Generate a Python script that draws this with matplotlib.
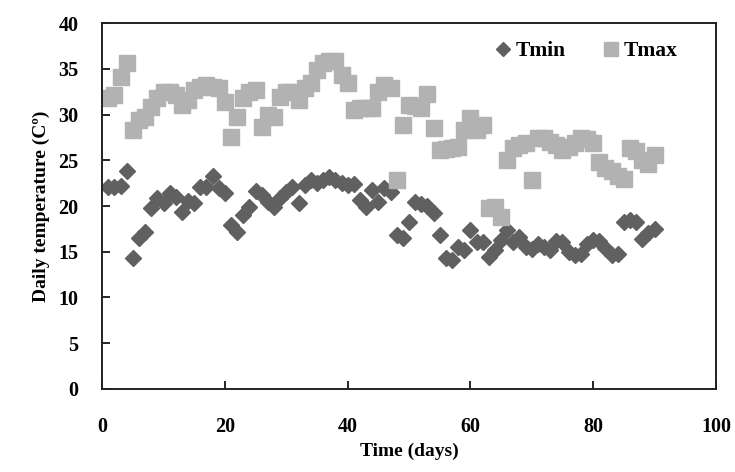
import matplotlib.pyplot as plt

# daily temperatures, days 1..90
days = list(range(1, 91))

tmin = [22.1, 22.1, 22.2, 23.8, 14.3, 16.5, 17.2, 19.8, 20.9, 20.3,
        21.4, 21.0, 19.3, 20.5, 20.3, 22.1, 22.1, 23.3, 22.0, 21.4,
        17.9, 17.2, 19.0, 19.9, 21.6, 21.2, 20.4, 19.9, 20.9, 21.5,
        22.1, 20.3, 22.3, 22.8, 22.5, 22.8, 23.2, 22.8, 22.5, 22.3,
        22.4, 20.7, 19.9, 21.7, 20.4, 22.0, 21.5, 16.8, 16.5, 18.3,
        20.4, 20.2, 20.0, 19.2, 16.8, 14.3, 14.1, 15.5, 15.2, 17.4,
        16.1, 16.1, 14.4, 15.2, 16.3, 17.4, 16.1, 16.6, 15.5, 15.3,
        15.9, 15.5, 15.2, 16.2, 16.1, 15.0, 14.6, 14.8, 15.9, 16.3,
        16.2, 15.4, 14.6, 14.8, 18.2, 18.5, 18.2, 16.4, 17.0, 17.5]

tmax = [31.8, 32.1, 34.1, 35.6, 28.3, 29.4, 29.7, 30.8, 31.8, 32.5,
        32.5, 32.1, 31.0, 31.6, 32.7, 33.0, 33.2, 33.0, 32.9, 31.4,
        27.5, 29.7, 31.8, 32.5, 32.7, 28.6, 30.0, 29.7, 31.9, 32.5,
        32.5, 31.6, 32.9, 33.5, 34.9, 35.6, 35.9, 35.9, 34.3, 33.5,
        30.5, 30.7, 30.7, 30.7, 32.5, 33.2, 32.9, 22.8, 28.9, 31.0,
        30.9, 30.7, 32.3, 28.5, 26.1, 26.2, 26.3, 26.5, 28.3, 29.6,
        28.3, 28.9, 19.8, 19.9, 18.8, 25.0, 26.3, 26.7, 26.9, 22.8,
        27.4, 27.4, 27.0, 26.7, 26.1, 26.4, 26.9, 27.4, 27.3, 26.9,
        24.8, 24.2, 23.8, 23.3, 23.0, 26.3, 26.0, 25.0, 24.6, 25.6]

plt.rcParams['font.family'] = ['Liberation Serif', 'DejaVu Serif']
plt.rcParams['font.weight'] = 'bold'

fig = plt.figure(figsize=(7.35, 4.72), dpi=100)
ax = fig.add_axes([0.139, 0.176, 0.835, 0.775])

ax.plot(days, tmin, linestyle='none', marker='D', markersize=8.5,
        color='#606060', label='Tmin')
ax.plot(days, tmax, linestyle='none', marker='s', markersize=11.5,
        color='#b2b2b2', label='Tmax')

ax.set_xlim(0, 100)
ax.set_ylim(0, 40)
ax.set_xticks(range(0, 101, 20))
ax.set_yticks(range(0, 41, 5))

for side in ['top', 'right', 'left', 'bottom']:
    ax.spines[side].set_linewidth(1.4)
    ax.spines[side].set_color('#222222')

ax.tick_params(axis='both', direction='in', length=6, width=1.2,
               labelsize=14.5, top=False, right=False)
ax.tick_params(axis='x', pad=20)
ax.tick_params(axis='y', pad=17)

ax.set_xlabel('Time (days)', fontsize=14, fontweight='bold', labelpad=4)
ax.set_ylabel('Daily temperature (Cº)', fontsize=14, fontweight='bold', labelpad=6)

leg = ax.legend(loc='upper right', bbox_to_anchor=(0.968, 1.0), ncol=2,
                frameon=False, fontsize=15.5, handletextpad=0.1,
                columnspacing=1.6, handlelength=1.0, borderaxespad=0.45,
                markerscale=0.85)

fig.savefig('out.png', dpi=100)
